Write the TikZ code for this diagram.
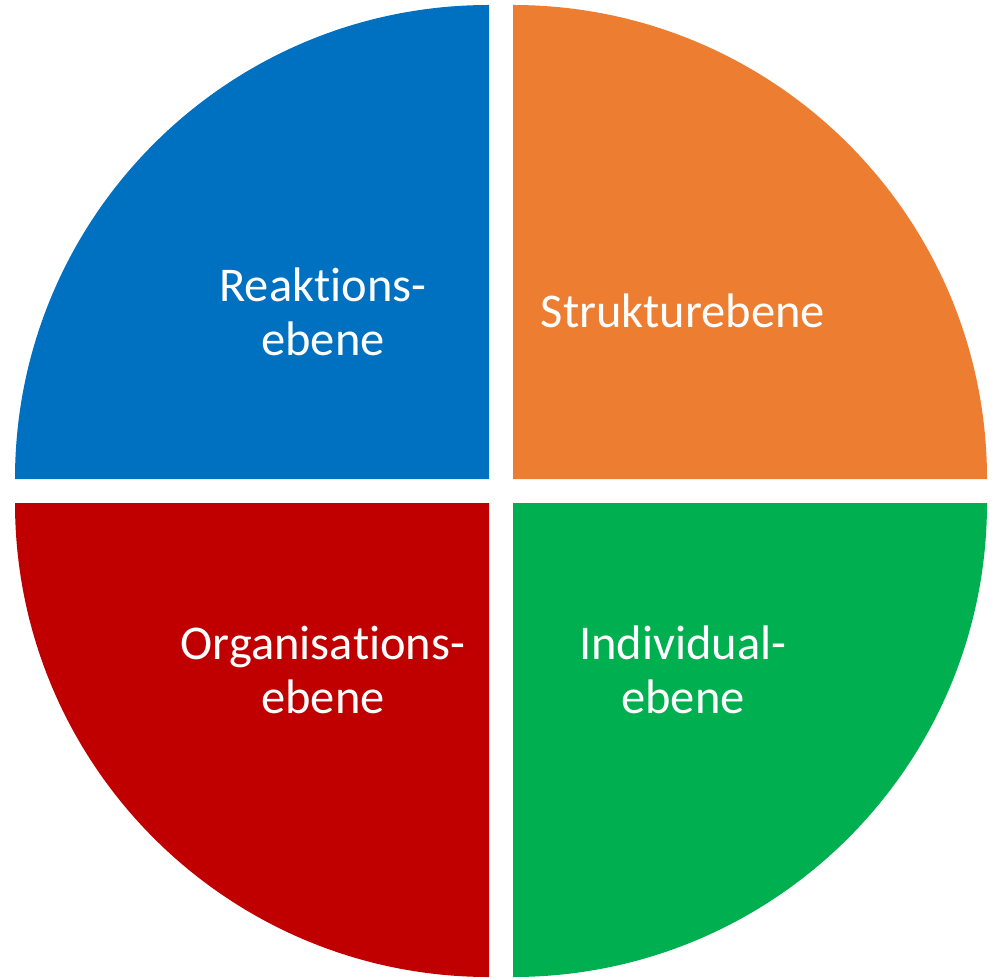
\documentclass[tikz,border=0pt]{standalone}
\usepackage{fontspec}
\setmainfont{Carlito}[RawFeature={-liga;-clig;-calt;-dlig}]
\definecolor{reaktion}{HTML}{0070C0}
\definecolor{struktur}{HTML}{ED7D31}
\definecolor{organisation}{HTML}{C00000}
\definecolor{individual}{HTML}{00B050}
\newcommand{\rad}{9.48cm}
\tikzset{
    ebenetext/.style={text=white, align=center,
        font=\fontsize{27.6}{30.4}\selectfont}
}
\begin{document}
\begin{tikzpicture}

% page frame
\useasboundingbox (0,0) rectangle (20.04,19.56);

% quadrants
\fill[reaktion] (9.78,9.98) -- ++(-\rad,0)
    arc[start angle=180, end angle=90, radius=\rad] -- cycle;
\fill[struktur] (10.26,9.98) -- ++(0,\rad)
    arc[start angle=90, end angle=0, radius=\rad] -- cycle;
\fill[organisation] (9.78,9.50) -- ++(0,-\rad)
    arc[start angle=270, end angle=180, radius=\rad] -- cycle;
\fill[individual] (10.26,9.50) -- ++(\rad,0)
    arc[start angle=0, end angle=-90, radius=\rad] -- cycle;

% labels
\node[ebenetext] (reaktion) at (6.46,13.32) {Reak\kern0ptt\kern0ptions-\\ebene};
\node[ebenetext] (struktur) at (13.66,13.34) {Strukturebene};
\node[ebenetext] (organisation) at (6.46,6.16) {Organisa\kern0ptt\kern0ptions-\\ebene};
\node[ebenetext] (individual) at (13.66,6.16) {Individual-\\ebene};

\end{tikzpicture}
\end{document}
